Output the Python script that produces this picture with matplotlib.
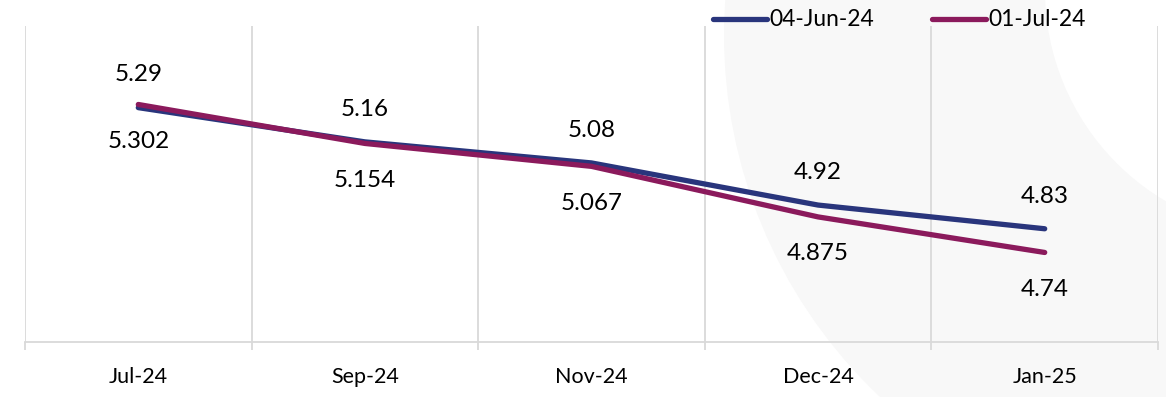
import matplotlib
matplotlib.use("Agg")
import matplotlib.pyplot as plt
from matplotlib.patches import Circle, Rectangle

# Data
categories = ["Jul-24", "Sep-24", "Nov-24", "Dec-24", "Jan-25"]
series_names = ["04-Jun-24", "01-Jul-24"]
jun_values = [5.29, 5.16, 5.08, 4.92, 4.83]
jul_values = [5.302, 5.154, 5.067, 4.875, 4.74]

NAVY = "#29357c"
MAROON = "#8b1a5c"
GRID = "#d9d9d9"

plt.rcParams["font.family"] = ["Lato", "DejaVu Sans"]

W, H = 1166, 397
fig = plt.figure(figsize=(W / 100, H / 100), dpi=100)

# Decorative background shape (pixel coordinates on a full-figure axes)
bg = fig.add_axes([0, 0, 1, 1], zorder=0)
bg.set_xlim(0, W)
bg.set_ylim(H, 0)
bg.axis("off")
clip = Rectangle((0, 0), 1135, H, transform=bg.transData)
big = Circle((1222, 35), 498, facecolor="#f8f8f8", edgecolor="none")
big.set_clip_path(clip)
bg.add_patch(big)
notch = Circle((1290, -10), 245, facecolor="white", edgecolor="none")
bg.add_patch(notch)

ax = fig.add_axes([25 / W, (H - 342) / H, (1158 - 25) / W, (342 - 26) / H], zorder=1)
ax.patch.set_alpha(0)

x = list(range(len(categories)))
ax.plot(x, jun_values, color=NAVY, lw=3.8, solid_capstyle="round",
        solid_joinstyle="round", label=series_names[0], zorder=3)
ax.plot(x, jul_values, color=MAROON, lw=3.8, solid_capstyle="round",
        solid_joinstyle="round", label=series_names[1], zorder=3)

ax.set_xlim(-0.5, len(categories) - 0.5)
ax.set_ylim(4.4, 5.6)

# Value labels: first series above, second below
for xi, v in zip(x, jun_values):
    ax.annotate(f"{v:g}", (xi, v), xytext=(0, 23.5), textcoords="offset points",
                ha="center", va="center", fontsize=17.5, color="black")
for xi, v in zip(x, jul_values):
    ax.annotate(f"{v:g}", (xi, v), xytext=(0, -26.5), textcoords="offset points",
                ha="center", va="center", fontsize=17.5, color="black")

# Vertical gridlines at category boundaries
bounds = [i - 0.5 for i in range(len(categories) + 1)]
for b in bounds:
    ax.axvline(b, color=GRID, lw=1.3, zorder=1)

for s in ["top", "left", "right"]:
    ax.spines[s].set_visible(False)
ax.spines["bottom"].set_color(GRID)
ax.spines["bottom"].set_linewidth(1.3)
ax.set_yticks([])

ax.set_xticks(bounds)
ax.set_xticklabels([])
ax.tick_params(axis="x", which="major", length=6, width=1.3, color=GRID, direction="out")
ax.set_xticks(x, minor=True)
ax.set_xticklabels(categories, minor=True, fontsize=15.5)
ax.tick_params(axis="x", which="minor", length=0, pad=18)

leg = fig.legend(*ax.get_legend_handles_labels(), loc="center left",
                 bbox_to_anchor=(713 / W, 1 - 20 / H), bbox_transform=fig.transFigure,
                 ncol=2, frameon=False, fontsize=16.4, handlelength=2.35,
                 handletextpad=0.12, columnspacing=2.55, borderaxespad=0, borderpad=0)
for line in leg.get_lines():
    line.set_linewidth(3.8)
    line.set_solid_capstyle("round")

fig.savefig("out.png", dpi=100)
